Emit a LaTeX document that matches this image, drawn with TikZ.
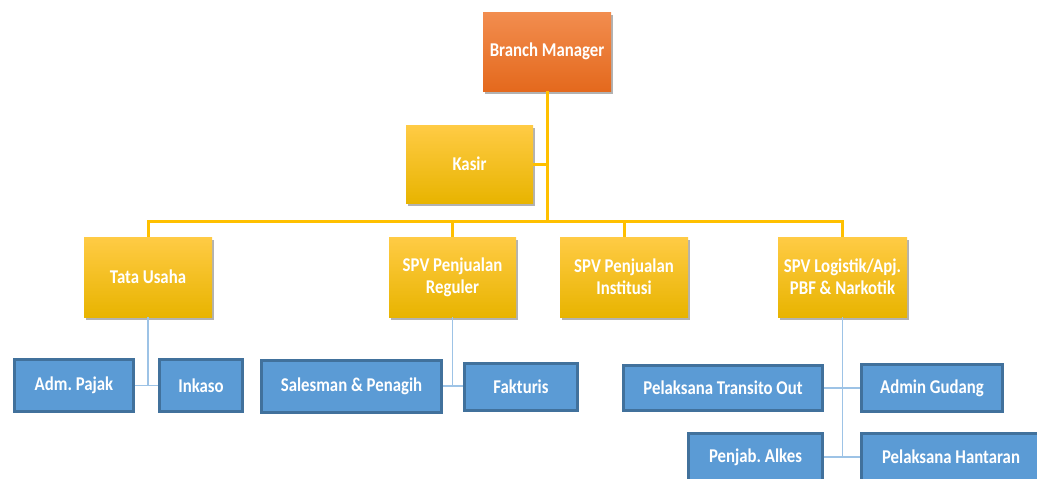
\documentclass[tikz,border=0pt]{standalone}
\usepackage{fontspec}
\newfontfamily\lbl[FakeStretch=0.86]{Carlito}
\usetikzlibrary{shadows}
\frenchspacing
\definecolor{orgtop}{HTML}{F28D4F}
\definecolor{orgbot}{HTML}{E4691D}
\definecolor{yeltop}{HTML}{FFCB45}
\definecolor{yelmid}{HTML}{FFC000}
\definecolor{yelbot}{HTML}{E8B400}
\definecolor{yline}{HTML}{FFC000}
\definecolor{bfill}{HTML}{5B9BD5}
\definecolor{bdraw}{HTML}{41719C}
\definecolor{bline}{HTML}{9DC3E6}
\tikzset{
  base/.style={font=\lbl\bfseries\fontsize{19.5}{22}\selectfont, text=white, align=center, inner sep=0pt},
  orgbox/.style={base, minimum width=128pt, minimum height=79pt, top color=orgtop, bottom color=orgbot,
     drop shadow={shadow xshift=2pt, shadow yshift=-3pt, opacity=0.3, fill=black}},
  yelbox/.style={base, minimum width=128pt, minimum height=80pt, top color=yeltop, middle color=yelmid, bottom color=yelbot,
     drop shadow={shadow xshift=2pt, shadow yshift=-3pt, opacity=0.3, fill=black}},
  bluebox/.style={base, fill=bfill, draw=bdraw, line width=3pt, minimum height=52pt},
  yconn/.style={draw=yline, line width=3pt},
  bconn/.style={draw=bline, line width=1.5pt},
}
\begin{document}
\begin{tikzpicture}[x=1pt, y=-1pt]
\useasboundingbox (0,0) rectangle (1037,479);
\clip (0,0) rectangle (1037,479);
% nodes
\node[orgbox] (bm) at (547,51.5) {Branch Manager};
\node[yelbox, minimum width=127pt, minimum height=78pt] (kasir) at (469.5,164) {Kasir};
\node[yelbox] (tu) at (148,277) {Tata Usaha};
\node[yelbox, minimum width=127pt] (reg) at (452.5,277) {SPV Penjualan\\Reguler};
\node[yelbox] (ins) at (624,277) {SPV Penjualan\\Institusi};
\node[yelbox, minimum width=129pt] (log) at (842.5,277) {SPV Logistik/Apj.\\PBF \& Narkotik};
\coordinate (bus) at (547,221);
% blue nodes
\node[bluebox, minimum width=119pt] (adm) at (74,385.5) {Adm. Pajak};
\node[bluebox, minimum width=83pt] (ink) at (201,385.5) {Inkaso};
\node[bluebox, minimum width=180pt] (sal) at (351.5,386) {Salesman \& Penagih};
\node[bluebox, minimum width=113pt, minimum height=47pt] (fak) at (521,387) {Fakturis};
\node[bluebox, minimum width=199pt, minimum height=45pt] (tro) at (723,388) {Pelaksana Transito Out};
\node[bluebox, minimum width=141pt, minimum height=47pt] (gud) at (932,388) {Admin Gudang};
\node[bluebox, minimum width=134pt, minimum height=47pt] (alk) at (755.5,457) {Penjab. Alkes};
\node[bluebox, minimum width=180pt, minimum height=47pt] (han) at (951,457) {Pelaksana Hantaran};
% yellow connectors
\path[yconn] (bm.south) -- (bm.south |- bus);
\path[yconn] (kasir.east) -- (kasir.east -| bm.south);
\path[yconn] (tu.north) -- (tu.north |- bus) -| (log.north);
\path[yconn] (reg.north) -- (reg.north |- bus);
\path[yconn] (ins.north) -- (ins.north |- bus);
% blue connectors
\path[bconn] (tu.south) -- (tu.south |- adm.east);
\path[bconn] (adm.east) -- (ink.west);
\path[bconn] (reg.south) -- (reg.south |- sal.east);
\path[bconn] (sal.east) -- (sal.east -| fak.west);
\path[bconn] (log.south) -- (log.south |- alk.east);
\path[bconn] (tro.east) -- (tro.east -| gud.west);
\path[bconn] (alk.east) -- (han.west);
\end{tikzpicture}
\end{document}
